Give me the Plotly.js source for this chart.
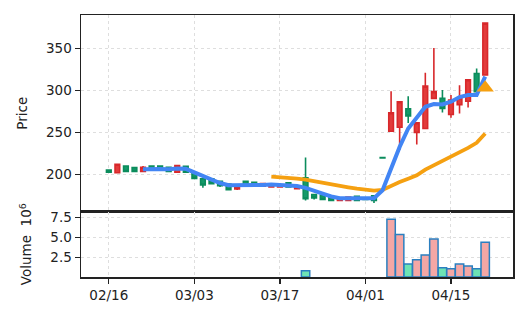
<!DOCTYPE html>
<html>
<head>
<meta charset="utf-8">
<script src="https://cdn.plot.ly/plotly-3.0.1.min.js"></script>
<style>html,body{margin:0;padding:0;background:#fff;}#chart{width:528px;height:322px;}</style>
</head>
<body>
<div id="chart"></div>
<script>
// Trading-day index labels (ticks every 10 sessions)
var tickIndex = [0, 10, 20, 30, 40];
var tickLabels = ["02/16", "03/03", "03/17", "04/01", "04/15"];

var openP  = [205,202,210,208,203.5,210,210,208.5,202.5,209.5,201.5,194.8,194.8,191.6,188.5,182.5,191.6,190.5,186,185,185,190,183,
              196,176,175,172.5,169,169,174,172,174.5,220,
              251.4,256,278,250,254.6,290.5,290.5,271.3,283,287,320,318.3];
var highP  = [205.5,212.5,210.5,208.5,210,210.5,210.5,209,211.5,210,202,195.2,195.5,192,189,186,192,191,189.5,188.5,188,190.5,185.5,
              220,177,175.5,173,172.5,173.5,174.5,172.5,175,220,
              299,287,293,262,321,350.5,300.5,294.4,306,313,326,380];
var lowP   = [202,201.5,203,203,202.5,204.5,204.5,203,201.5,202,194.5,184,188,185,181,181.3,187,186,185.5,184.5,184.5,184.5,182.5,
              169,170,169.5,168.5,168.5,168.5,168.5,169.5,166,219.5,
              251,229,261,235.5,254,290,273.5,267.3,272.5,279.7,298,318];
var closeP = [202.5,212,203.5,203.5,208.5,205,205,203.5,210.5,202.5,195.2,187.3,189,186.5,181.7,185.7,187.7,186.5,189,188,187.6,185,185,
              171,172,170,169,172,173,169,170,169,219.5,
              273.3,286.5,269.5,261.5,305,298.5,278.5,288.4,291,312.7,298.5,380];
var volumeM = [null,null,null,null,null,null,null,null,null,null,null,null,null,null,null,null,null,null,null,null,null,null,null,
               0.8,null,null,null,null,null,null,null,null,null,
               7.29,5.38,1.63,2.17,2.79,4.79,1.17,1.04,1.63,1.38,1.04,4.38];
// moving averages as drawn (5 and 20 sessions)
var ma5 = [null,null,null,null,206,206.4,206.4,206,207,206.6,202.4,197,193.6,189.7,187,186.9,186.9,186.9,187.3,188,187.7,187.3,186.2,
           184,181,177,173.7,171.7,171.5,171.5,171.5,171.5,181,
           206.8,232.7,254.6,268.5,280.5,283.7,283.3,286.5,292,294.4,294.4,316.3];
var ma20 = [null,null,null,null,null,null,null,null,null,null,null,null,null,null,null,null,null,null,null,197.2,196.6,195.9,195,
            193.6,191.6,189.6,188,186,184.5,182.9,181.7,180.6,181.5,
            186.5,190.8,194.8,198.8,205.6,210.8,215.5,220.3,225.9,231.5,237.5,248.6];
var signalIndex = [44];
var signalPrice = [303];

var days = openP.map(function(_, i){ return i; });
var volColors = openP.map(function(o, i){ return closeP[i] > o ? '#f4a7a5' : '#6ee3b4'; });

var traces = [
  {
    type: 'candlestick', x: days, open: openP, high: highP, low: lowP, close: closeP,
    xaxis: 'x', yaxis: 'y', showlegend: false, hoverinfo: 'skip',
    increasing: {line: {color: '#d8282b', width: 1.6}, fillcolor: '#e23b3b'},
    decreasing: {line: {color: '#0b8c5c', width: 1.6}, fillcolor: '#139a69'},
    whiskerwidth: 0
  },
  {
    type: 'scatter', mode: 'lines', x: days, y: ma20, xaxis: 'x', yaxis: 'y',
    line: {color: '#f5a011', width: 3.8}, showlegend: false, connectgaps: false
  },
  {
    type: 'scatter', mode: 'lines', x: days, y: ma5, xaxis: 'x', yaxis: 'y',
    line: {color: '#4285f4', width: 4}, showlegend: false, connectgaps: false
  },
  {
    type: 'scatter', mode: 'markers', x: signalIndex, y: signalPrice, xaxis: 'x', yaxis: 'y',
    marker: {symbol: 'triangle-up', size: 15, color: '#f5a011'}, showlegend: false
  },
  {
    type: 'bar', x: days, y: volumeM, xaxis: 'x2', yaxis: 'y2', showlegend: false,
    marker: {color: volColors, line: {color: '#2a7fc0', width: 1.5}}
  }
];

var axisFont = {family: 'DejaVu Sans', size: 13.5, color: '#222'};
var gridCommon = {showgrid: true, gridcolor: '#dedede', gridwidth: 1, griddash: 'dot',
  showline: true, linecolor: '#222', linewidth: 1.5, mirror: true, zeroline: false};

var layout = {
  width: 528, height: 322,
  margin: {l: 81, r: 15, t: 15, b: 44.5},
  paper_bgcolor: '#fff', plot_bgcolor: '#fff',
  font: axisFont,
  bargap: 0.02,
  boxgap: 0.22,
  showlegend: false,
  xaxis: Object.assign({}, gridCommon, {
    domain: [0, 1], anchor: 'y', range: [-3.25, 47.25],
    tickmode: 'array', tickvals: tickIndex, ticktext: tickLabels,
    showticklabels: false, ticks: '', rangeslider: {visible: false}
  }),
  yaxis: Object.assign({}, gridCommon, {
    domain: [0.25, 1], anchor: 'x', range: [155.8, 389.7],
    tickmode: 'array', tickvals: [200, 250, 300, 350],
    ticks: 'outside', ticklen: 5, tickwidth: 1.3, tickcolor: '#222',
    title: {text: 'Price', font: axisFont, standoff: 15}
  }),
  xaxis2: Object.assign({}, gridCommon, {
    domain: [0, 1], anchor: 'y2', range: [-3.25, 47.25], matches: 'x',
    tickmode: 'array', tickvals: tickIndex, ticktext: tickLabels,
    ticks: 'outside', ticklen: 5, tickwidth: 1.3, tickcolor: '#222'
  }),
  yaxis2: Object.assign({}, gridCommon, {
    domain: [0, 0.25], anchor: 'x2', range: [0, 8.27],
    tickmode: 'array', tickvals: [2.5, 5, 7.5], ticktext: ['2.5', '5.0', '7.5'],
    ticks: 'outside', ticklen: 5, tickwidth: 1.3, tickcolor: '#222',
    title: {text: 'Volume  10<sup>6</sup>', font: axisFont, standoff: 15}
  })
};

Plotly.newPlot('chart', traces, layout, {staticPlot: true, displayModeBar: false});
</script>
</body>
</html>
